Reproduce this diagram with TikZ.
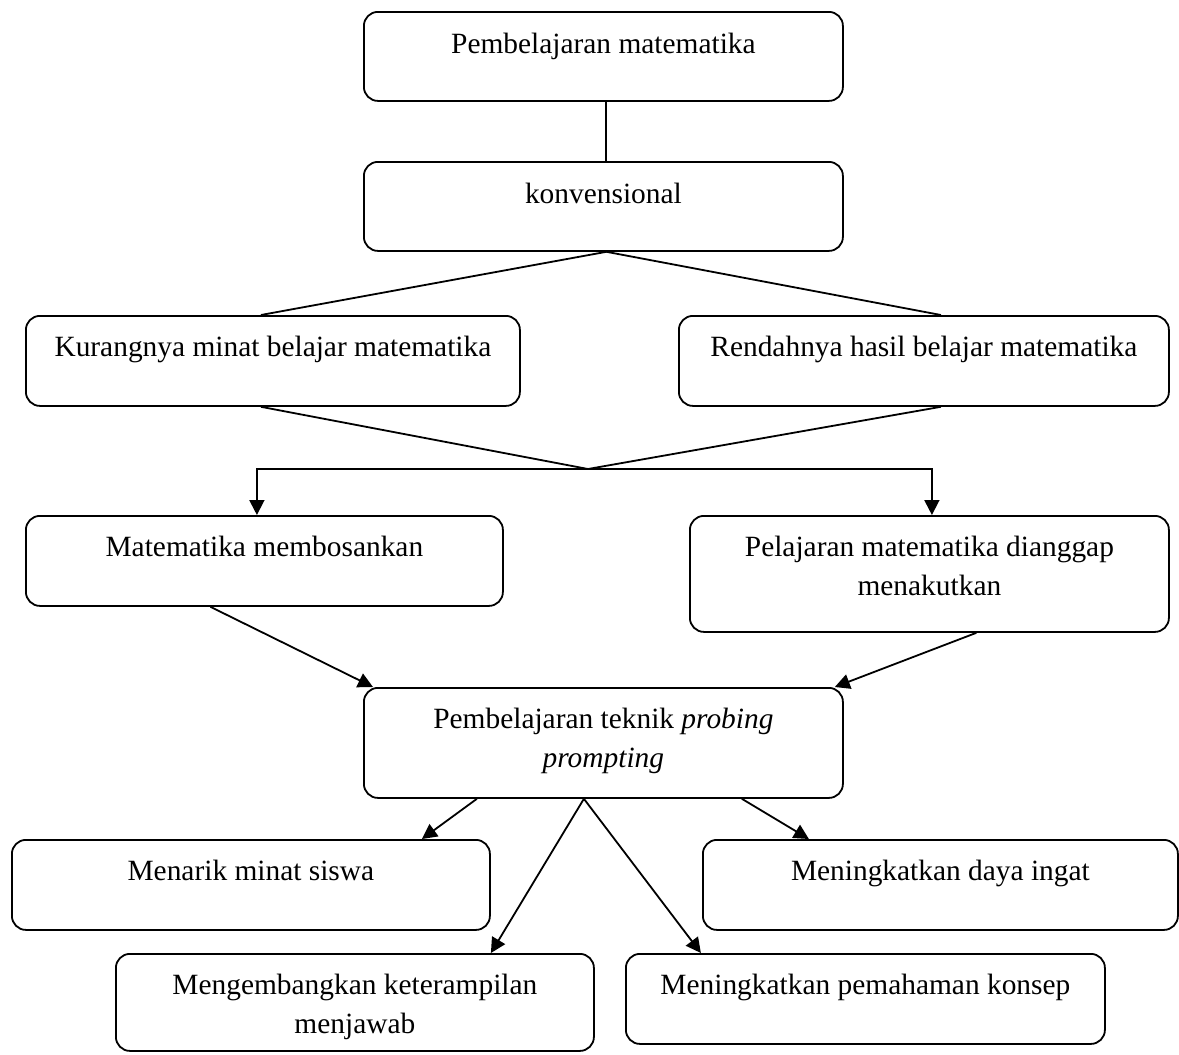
\documentclass[tikz,border=0pt]{standalone}
\usepackage{fontspec}
\setmainfont{Liberation Serif}
\usetikzlibrary{arrows.meta,calc}
\begin{document}
\begin{tikzpicture}[x=1pt,y=1pt,
  box/.style={draw, rounded corners=14pt, line width=1.8pt, inner sep=0pt, anchor=north west},
  lbl/.style={font=\fontsize{29.4}{39}\selectfont, align=center, anchor=base, inner sep=0pt},
  con/.style={line width=1.8pt},
  arr/.style={line width=1.8pt, -{Triangle[length=15pt,width=15pt]}}]
\useasboundingbox (0,0) rectangle (1179,-1055);
% boxes
\node[box, minimum width=479, minimum height=89] (b1) at (363,-11) {};
\node[box, minimum width=479, minimum height=89] (b2) at (363,-161) {};
\node[box, minimum width=494, minimum height=90] (b3) at (25,-315) {};
\node[box, minimum width=490, minimum height=90] (b4) at (678,-315) {};
\node[box, minimum width=477, minimum height=90] (b5) at (25,-515) {};
\node[box, minimum width=479, minimum height=116] (b6) at (689,-515) {};
\node[box, minimum width=479, minimum height=110] (b7) at (363,-687) {};
\node[box, minimum width=478, minimum height=90] (b8) at (11,-839) {};
\node[box, minimum width=475, minimum height=90] (b9) at (702,-839) {};
\node[box, minimum width=478, minimum height=97] (b10) at (115,-953) {};
\node[box, minimum width=479, minimum height=90] (b11) at (625,-953) {};
% labels (base anchor = last line baseline)
\node[lbl] (t1) at ([yshift=-42]b1.north) {Pembelajaran matematika};
\node[lbl] (t2) at ([yshift=-42]b2.north) {konvensional};
\node[lbl] (t3) at ([yshift=-41]b3.north) {Kurangnya minat belajar matematika};
\node[lbl] (t4) at ([yshift=-41]b4.north) {Rendahnya hasil belajar matematika};
\node[lbl] (t5) at ([yshift=-41]b5.north) {Matematika membosankan};
\node[lbl] (t6) at ([yshift=-80]b6.north) {Pelajaran matematika dianggap\\menakutkan};
\node[lbl] (t7) at ([yshift=-80]b7.north) {Pembelajaran teknik \textit{probing}\\\textit{prompting}};
\node[lbl] (t8) at ([yshift=-41]b8.north) {Menarik minat siswa};
\node[lbl] (t9) at ([yshift=-41]b9.north) {Meningkatkan daya ingat};
\node[lbl] (t10) at ([yshift=-80]b10.north) {Mengembangkan keterampilan\\menjawab};
\node[lbl] (t11) at ([yshift=-41]b11.north) {Meningkatkan pemahaman konsep};
% connectors
\draw[con] ([xshift=2.5]b1.south) -- ([xshift=2.5]b2.north);
\draw[con] ([xshift=-12]b3.north) -- ([xshift=3]b2.south) -- ([xshift=17]b4.north);
\coordinate (m) at (588,-469);
\draw[con] ([xshift=-12]b3.south) -- (m) -- ([xshift=17]b4.south);
\draw[arr] (m) -| ([xshift=-7.5]b5.north);
\draw[arr] (m) -| ([xshift=2.5]b6.north);
\draw[arr] ([xshift=-54]b5.south) -- ([xshift=10]b7.north west);
\draw[arr] ([xshift=47]b6.south) -- ([xshift=-9]b7.north east);
\coordinate (p) at ([xshift=-19.5]b7.south);
\draw[arr] ([xshift=-126.5]b7.south) -- ([xshift=171]b8.north);
\draw[arr] (p) -- ([xshift=136]b10.north);
\draw[arr] (p) -- ([xshift=-164.5]b11.north);
\draw[arr] ([xshift=138.5]b7.south) -- ([xshift=-131.5]b9.north);
\end{tikzpicture}
\end{document}
